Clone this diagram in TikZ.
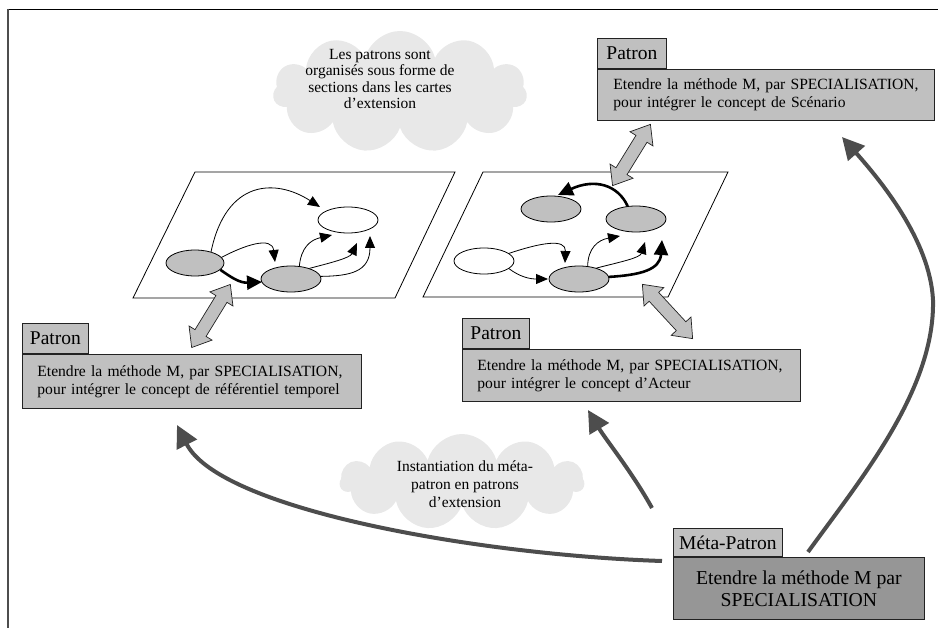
\documentclass[tikz,border=0pt]{standalone}
\usepackage{fontspec}
\setmainfont{Liberation Serif}
\usetikzlibrary{arrows.meta,shapes.geometric,shapes.symbols}
\definecolor{boxgray}{HTML}{C0C0C0}
\definecolor{metagray}{HTML}{969696}
\definecolor{cloudgray}{HTML}{E8E8E8}
\definecolor{arrgray}{HTML}{4D4D4D}
\definecolor{edgegray}{HTML}{222222}
\begin{document}
\begin{tikzpicture}[x=1pt,y=-1pt,
  lbl/.style={draw=edgegray, line width=0.8pt, fill=boxgray, anchor=south west, minimum height=30pt, inner sep=0pt, font=\fontsize{19.5}{22}\selectfont},
  mainbox/.style={draw=edgegray, line width=0.8pt, fill=boxgray, anchor=north west, inner xsep=15pt, inner ysep=0pt, align=left, font=\fontsize{15.6}{18}\selectfont},
  ell/.style={ellipse, draw, line width=0.8pt, minimum width=60pt, minimum height=26pt, inner sep=0pt},
  thinarr/.style={draw, line width=0.8pt, -{Triangle[length=12pt,width=10pt]}},
  thickarr/.style={draw, line width=2.6pt, -{Triangle[length=15pt,width=14pt]}},
  bigarr/.style={draw=arrgray, line width=4pt, -{Triangle[length=22pt,width=22pt]}},
  blk/.style={draw=edgegray, line width=0.7pt, fill=boxgray},
  cloudbg/.style={cloud, cloud puffs=11, cloud ignores aspect, fill=cloudgray, draw=none, inner sep=0pt},
  cloudtxt/.style={align=center, font=\fontsize{15.5}{16.5}\selectfont}
]
\useasboundingbox (0,0) rectangle (938,628);
% frame
\draw[black, line width=0.8pt] (8,9) -- (938,9);
\draw[arrgray, line width=1.8pt] (8,9) -- (8,628);

% clouds
\node[cloudbg, minimum width=254pt, minimum height=122pt] (c1) at (400,92) {};
\node[cloudtxt] (c1t) at (380,79) {Les patrons sont\\organisés sous forme de\\sections dans les cartes\\d’extension};
\node[cloudbg, minimum width=244pt, minimum height=96pt] (c2) at (462,482) {};
\node[cloudtxt, font=\fontsize{15.5}{18}\selectfont] (c2t) at (465,484) {Instantiation du méta-\\patron en patrons\\d’extension};

% parallelograms
\draw[line width=0.8pt, fill=white] (195,172) -- (455,172) -- (395,298) -- (133,298) -- cycle;
\draw[line width=0.8pt, fill=white] (483,172) -- (728,172) -- (668,297) -- (423,297) -- cycle;

% ellipses left map
\node[ell, fill=white] (LW) at (348,220) {};
\node[ell, fill=boxgray, minimum width=58pt] (LA) at (195,263) {};
\node[ell, fill=boxgray] (LB) at (291,279) {};
% ellipses right map
\node[ell, fill=boxgray] (RA) at (551,209) {};
\node[ell, fill=boxgray] (RB) at (636,219) {};
\node[ell, fill=white] (RW) at (484,261) {};
\node[ell, fill=boxgray] (RC) at (579,279) {};

% arrow tips
\coordinate (t1) at (320,207);
\coordinate (t2) at (275,262);
\coordinate (t3) at (262,282);
\coordinate (t4) at (332,235);
\coordinate (t5) at (357,243);
\coordinate (t6) at (370,236);
\coordinate (r1) at (558,195);
\coordinate (r2) at (565,263);
\coordinate (r3) at (548,279);
\coordinate (r4) at (620,236);
\coordinate (r5) at (645,242);
\coordinate (r6) at (662,240);

\draw[thinarr] (LA.35) .. controls (226,180) and (275,178) .. (t1);
\draw[thinarr] (LA.12) .. controls (245,245) and (272,236) .. (t2);
\draw[thickarr] (LA.-15) .. controls (232,278) and (240,283) .. (t3);
\draw[thinarr] (LB.57) .. controls (301,248) and (310,240) .. (t4);
\draw[thinarr] (LB.30) .. controls (330,263) and (350,258) .. (t5);
\draw[thinarr] (LB.5) .. controls (350,276) and (370,272) .. (t6);

\draw[thickarr] (RB.123) .. controls (618,185) and (595,178) .. (r1);
\draw[thinarr] (RW.17) .. controls (540,243) and (566,238) .. (r2);
\draw[thinarr] (RW.-17) .. controls (520,277) and (530,279) .. (r3);
\draw[thinarr] (RC.56) .. controls (588,248) and (598,240) .. (r4);
\draw[thinarr] (RC.32) .. controls (620,262) and (640,258) .. (r5);
\draw[thickarr] (RC.4) .. controls (640,275) and (660,270) .. (r6);

% Patron boxes
\node[lbl, minimum width=69pt] (trp) at (597,69) {Patron};
\node[mainbox, minimum height=51pt, text width=305pt, inner xsep=16pt] (trb) at (597,69) {\mbox{Etendre la méthode M, par SPECIALISATION,}\\pour intégrer le concept de Scénario};
\node[lbl, minimum width=66pt] (lp) at (22,354) {Patron};
\node[mainbox, minimum height=54pt, text width=309pt] (lb) at (22,354) {\mbox{Etendre la méthode M, par SPECIALISATION,}\\pour intégrer le concept de référentiel temporel};
\node[lbl, minimum width=67pt] (mp) at (462,349) {Patron};
\node[mainbox, minimum height=52pt, text width=308pt] (mbx) at (462,349) {\mbox{Etendre la méthode M, par SPECIALISATION,}\\pour intégrer le concept d’Acteur};

% Meta box
\node[lbl, minimum width=109pt, minimum height=28pt] (ml) at (673,557) {Méta-Patron};
\node[draw=edgegray, line width=0.8pt, fill=metagray, anchor=north west, minimum width=251pt, minimum height=62pt, inner sep=0pt, align=center, font=\fontsize{19.7}{22}\selectfont] (mb) at (673,557) {Etendre la méthode M par\\SPECIALISATION};

% block double arrows
\begin{scope}[shift={(211,316)}, rotate=58.5]
\draw[blk] (-37,0) -- (-20,13.5) -- (-20,6.5) -- (20,6.5) -- (20,13.5) -- (37,0) -- (20,-13.5) -- (20,-6.5) -- (-20,-6.5) -- (-20,-13.5) -- cycle;
\end{scope}
\begin{scope}[shift={(631.5,155)}, rotate=58.3]
\draw[blk] (-36,0) -- (-19,13.5) -- (-19,6.5) -- (19,6.5) -- (19,13.5) -- (36,0) -- (19,-13.5) -- (19,-6.5) -- (-19,-6.5) -- (-19,-13.5) -- cycle;
\end{scope}
\begin{scope}[shift={(667.5,311.5)}, rotate=-47.2]
\draw[blk] (-37,0) -- (-20,13.5) -- (-20,6.5) -- (20,6.5) -- (20,13.5) -- (37,0) -- (20,-13.5) -- (20,-6.5) -- (-20,-6.5) -- (-20,-13.5) -- cycle;
\end{scope}

% big gray arrows
\coordinate (ms1) at (662,561);
\coordinate (lt) at (177,425);
\coordinate (ms2) at (652,508);
\coordinate (mt) at (588,410);
\coordinate (ms3) at (808,552);
\coordinate (rt) at (842,137);
\draw[bigarr] (ms1) .. controls (480,555) and (220,510) .. (lt);
\draw[bigarr] (ms2) .. controls (632,472) and (606,440) .. (mt);
\draw[bigarr] (ms3) .. controls (860,480) and (935,390) .. (933,300) .. controls (930,240) and (880,180) .. (rt);
\end{tikzpicture}
\end{document}
